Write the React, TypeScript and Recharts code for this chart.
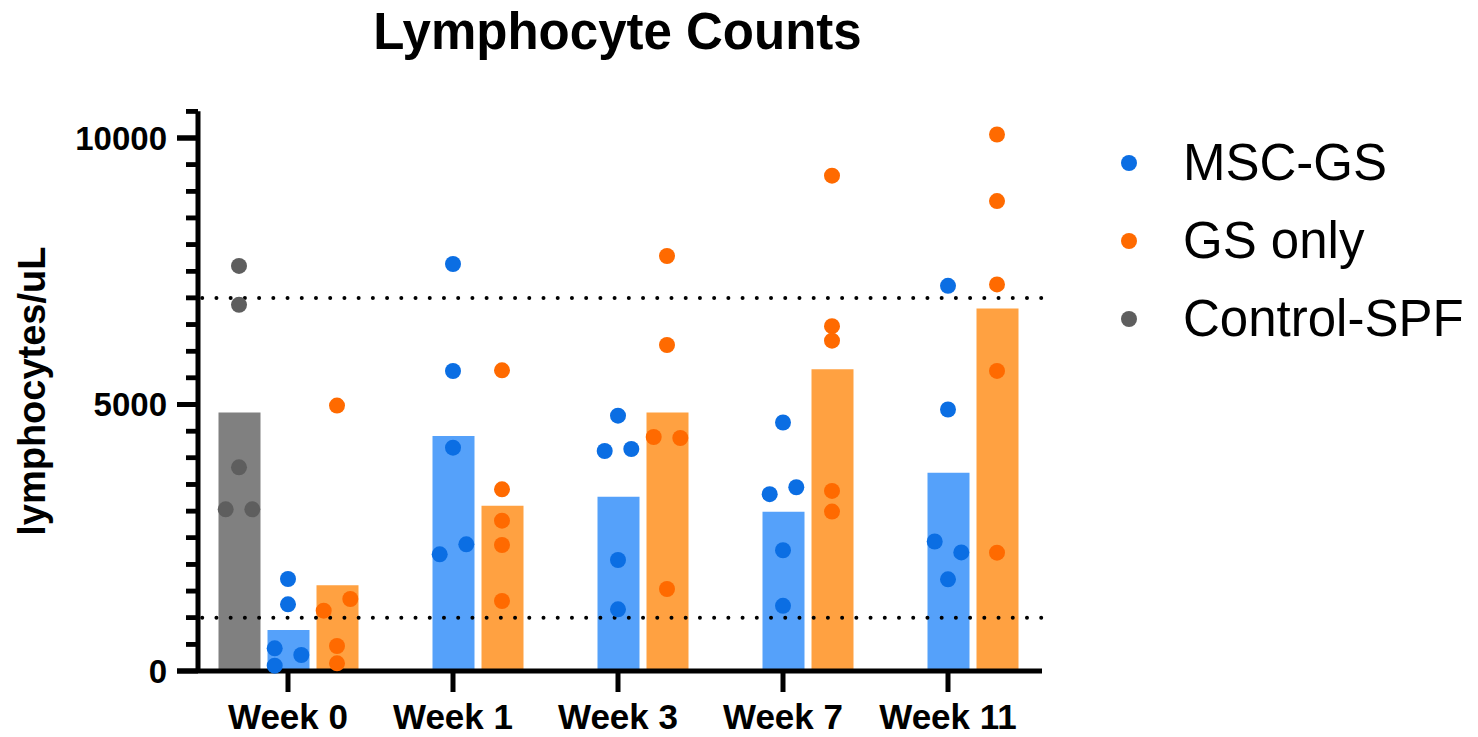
import React from "react";
import { ComposedChart, Bar, Scatter, XAxis, YAxis, ReferenceLine, Legend } from "recharts";

// ---- data ----
const weeks = ["Week 0", "Week 1", "Week 3", "Week 7", "Week 11"];

// bar heights (group means)
const controlBars = [4850, null, null, null, null];
const mscBars = [770, 4410, 3270, 2990, 3720];
const gsBars = [1610, 3100, 4850, 5660, 6800];

// individual animals, one list per week
const controlDots = [[7600, 6870, 3822, 3034, 3034], [], [], [], []];
const mscDots = [
  [1726, 1251, 425, 300, 100],
  [7636, 5628, 4190, 2189, 2377],
  [4790, 4128, 4165, 2083, 1157],
  [4662, 3317, 3447, 2266, 1223],
  [7227, 4906, 2430, 2225, 1720],
];
const gsDots = [
  [4980, 1132, 1351, 469, 144],
  [5641, 3409, 2820, 2364, 1313],
  [7786, 6116, 4390, 4371, 1538],
  [9294, 6469, 6197, 3379, 2991],
  [10066, 8816, 7253, 5630, 2220],
];

const yTicks = [
  0, 500, 1000, 1500, 2000, 2500, 3000, 3500, 4000, 4500, 5000,
  5500, 6000, 6500, 7000, 7500, 8000, 8500, 9000, 9500, 10000, 10500,
];
const yLabels = [0, 5000, 10000];
const normalRange = [1000, 7000];

// ---- layout ----
const W = 1478;
const H = 737;
const LEFT = 198;
const RIGHT = 1042;
const TOP = 111.35;
const BOTTOM = 671;
const PAD = { left: 7.5, right: 11.5 };
const BAR = 42;
const GAP = 7;
const BAND = (RIGHT - LEFT - PAD.left - PAD.right) / weeks.length;
const SLOT = (BAR + GAP) / BAND;
const JITTER = 13.3 / BAND;
const OVERLAP = 250; // values closer than this would overlap as dots
const MINOR = 12;
const MAJOR = 21;
const LABEL_GAP = 19;

const FONT = "'Liberation Sans', Arial, Helvetica, sans-serif";

// pixel offset from the y axis -> units of the hidden numeric x axis
const xAt = (px: number) => -0.5 + (px - PAD.left) / BAND;

const series = [
  { key: "msc", name: "MSC-GS", bar: "#55a1fa", dot: "#0b6ee3", slot: 0, dots: mscDots },
  { key: "gs", name: "GS only", bar: "#ffa141", dot: "#ff6a00", slot: 1, dots: gsDots },
  { key: "control", name: "Control-SPF", bar: "#808080", dot: "#5e5e5e", slot: -1, dots: controlDots },
];

const barData = weeks.map((week, i) => ({
  week,
  control: controlBars[i],
  msc: mscBars[i],
  gs: gsBars[i],
}));

// simple prism-like spreading: clustered values alternate left / right
function spread(values: number[]): number[] {
  const side = values.map(() => 0);
  if (!values.length) return side;
  const order = values.map((_, i) => i).sort((a, b) => values[b] - values[a]);
  let cluster = [order[0]];
  const flush = () => {
    if (cluster.length > 1)
      cluster
        .slice()
        .sort((a, b) => a - b)
        .forEach((idx, k) => (side[idx] = k % 2 === 0 ? -1 : 1));
  };
  for (let k = 1; k < order.length; k++) {
    if (values[order[k - 1]] - values[order[k]] < OVERLAP) cluster.push(order[k]);
    else {
      flush();
      cluster = [order[k]];
    }
  }
  flush();
  return side;
}

function dotsFor(s: (typeof series)[number]) {
  return s.dots.flatMap((vals, w) => {
    const side = spread(vals);
    return vals.map((v, i) => ({ x: w + s.slot * SLOT + side[i] * JITTER, y: v }));
  });
}

// x is where the label ends; the axis line sits MINOR + LABEL_GAP to the right
function YTick({ x, y, payload }: any) {
  const axisX = Number(x) + MINOR + LABEL_GAP;
  const major = yLabels.includes(payload.value);
  const cy = Number(y);
  return (
    <g>
      <path
        d={`M${axisX - (major ? MAJOR : MINOR)},${cy}H${axisX}`}
        stroke="#000"
        strokeWidth={major ? 5 : 4.5}
        fill="none"
      />
      {major && (
        <text x={x} y={cy} dy={11.8} textAnchor="end" fontSize={33} fontWeight="bold" fontFamily={FONT} fill="#000">
          {payload.value}
        </text>
      )}
    </g>
  );
}

function XTick({ x, y, payload }: any) {
  return (
    <text x={x} y={y} dy={35} textAnchor="middle" fontSize={35} fontWeight="bold" fontFamily={FONT} fill="#000">
      {payload.value}
    </text>
  );
}

function YTitle() {
  return (
    <text
      transform={`translate(45, ${(TOP + BOTTOM) / 2}) rotate(-90)`}
      textAnchor="middle"
      fontSize={38}
      fontWeight="bold"
      fontFamily={FONT}
      fill="#000"
    >
      lymphocytes/uL
    </text>
  );
}

function LegendBox() {
  return (
    <div style={{ fontFamily: FONT }}>
      {series.map((s) => (
        <div key={s.key} style={{ height: 78, display: "flex", alignItems: "center" }}>
          <span style={{ width: 16, height: 16, borderRadius: 8, background: s.dot, display: "inline-block" }} />
          <span style={{ marginLeft: 46, fontSize: 51, lineHeight: "51px", color: "#000" }}>{s.name}</span>
        </div>
      ))}
    </div>
  );
}

export default function App() {
  return (
    <div style={{ position: "absolute", left: 0, top: 0, width: W, height: H, background: "#fff" }}>
      <div
        style={{
          position: "absolute",
          left: 0,
          top: 5.5,
          width: 1235,
          textAlign: "center",
          fontFamily: FONT,
          fontWeight: "bold",
          fontSize: 51,
          lineHeight: "51px",
          color: "#000",
        }}
      >
        Lymphocyte Counts
      </div>
      <ComposedChart
        width={W}
        height={H}
        data={barData}
        margin={{ top: TOP, right: W - RIGHT, bottom: H - BOTTOM - 60, left: 0 }}
        barGap={GAP}
      >
        <XAxis
          xAxisId="cat"
          dataKey="week"
          interval={0}
          padding={PAD}
          height={60}
          tickSize={21}
          tickLine={{ stroke: "#000", strokeWidth: 5 }}
          axisLine={{ stroke: "#000", strokeWidth: 5 }}
          tick={<XTick />}
        />
        <XAxis xAxisId="num" type="number" dataKey="x" domain={[-0.5, 4.5]} padding={PAD} hide allowDataOverflow />
        <YAxis
          width={LEFT}
          domain={[0, 10500]}
          ticks={yTicks}
          interval={0}
          tickSize={MINOR}
          tickMargin={LABEL_GAP}
          tickLine={false}
          axisLine={{ stroke: "#000", strokeWidth: 5 }}
          tick={<YTick />}
          label={<YTitle />}
        />
        {normalRange.map((v) => (
          <ReferenceLine
            key={v}
            y={v}
            xAxisId="cat"
            stroke="#000"
            strokeWidth={4}
            strokeDasharray="0 14.22"
            strokeDashoffset={10}
            strokeLinecap="round"
          />
        ))}
        {/* y-axis comb ticks, drawn through the scales so they always show */}
        {yTicks.map((v) => (
          <ReferenceLine
            key={`t${v}`}
            xAxisId="num"
            ifOverflow="visible"
            segment={[
              { x: xAt(-(yLabels.includes(v) ? MAJOR : MINOR)), y: v },
              { x: xAt(0), y: v },
            ]}
            stroke="#000"
            strokeWidth={yLabels.includes(v) ? 5 : 4.5}
          />
        ))}
        <Bar xAxisId="cat" dataKey="control" fill="#808080" barSize={BAR} isAnimationActive={false} legendType="none" />
        <Bar xAxisId="cat" dataKey="msc" fill="#55a1fa" barSize={BAR} isAnimationActive={false} legendType="none" />
        <Bar xAxisId="cat" dataKey="gs" fill="#ffa141" barSize={BAR} isAnimationActive={false} legendType="none" />
        {series.map((s) => (
          <Scatter
            key={s.key}
            name={s.name}
            xAxisId="num"
            dataKey="y"
            data={dotsFor(s)}
            fill={s.dot}
            isAnimationActive={false}
            shape={(p: any) => <circle cx={p.cx} cy={p.cy} r={8} fill={s.dot} />}
          />
        ))}
        <Legend
          layout="vertical"
          align="center"
          verticalAlign="middle"
          wrapperStyle={{ left: 1121, top: 123.7, width: 357 }}
          content={() => <LegendBox />}
        />
      </ComposedChart>
    </div>
  );
}
